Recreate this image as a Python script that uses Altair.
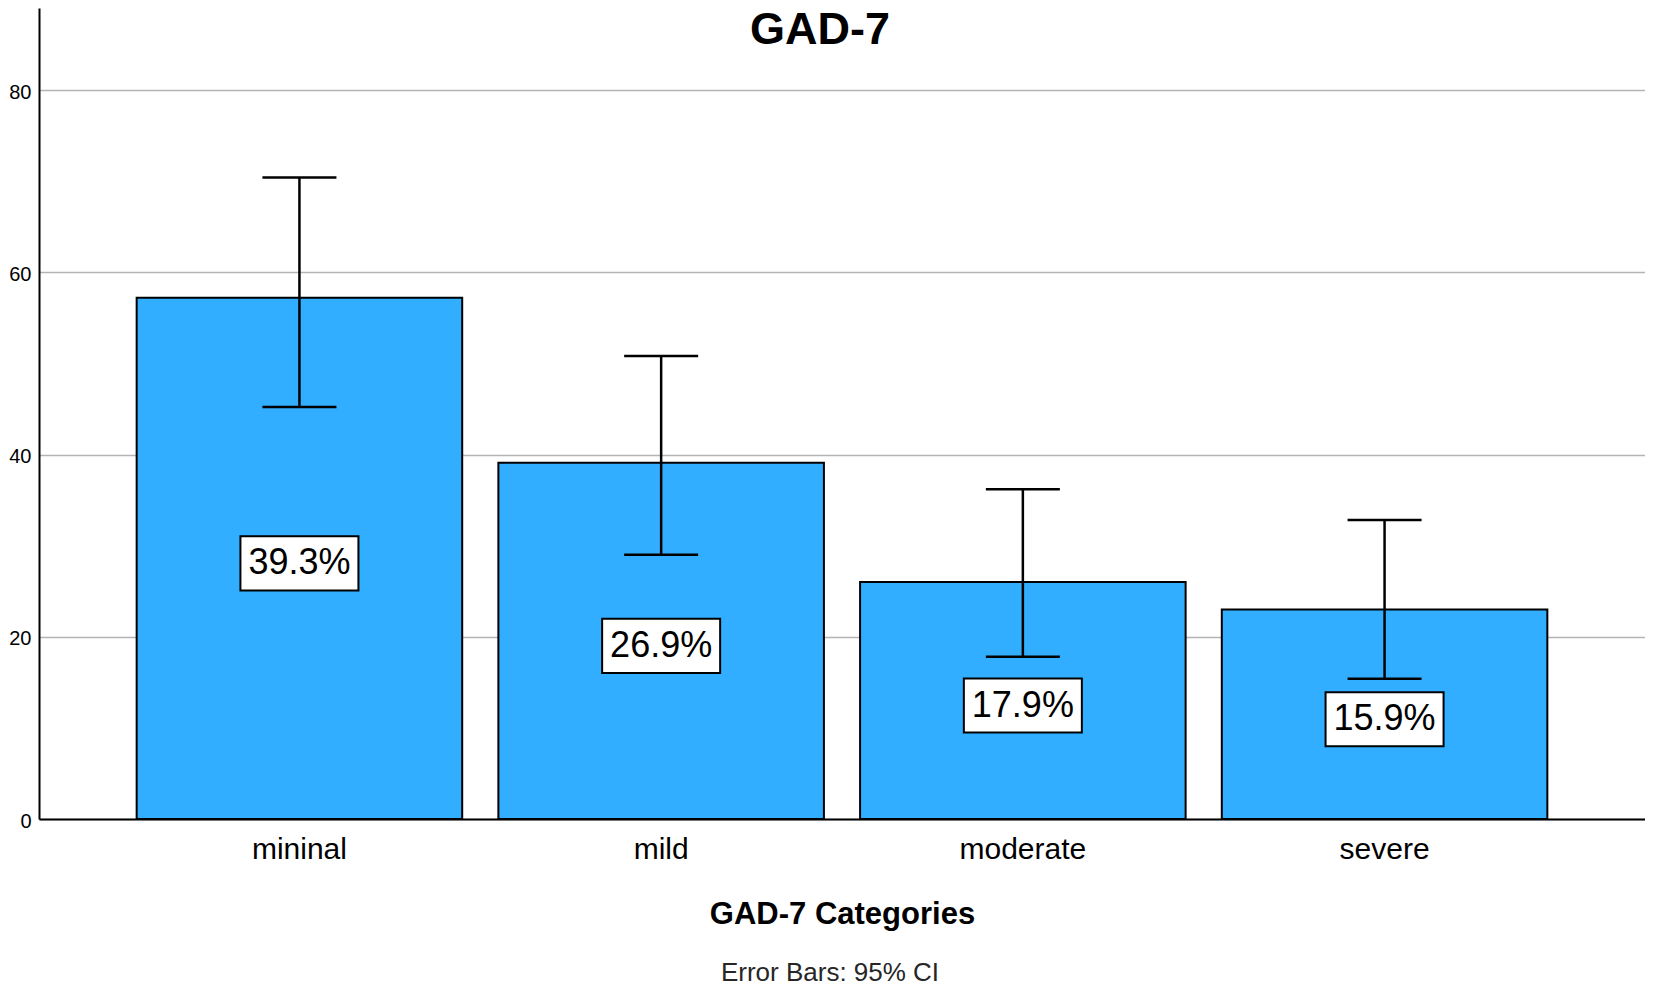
import altair as alt
import pandas as pd

categories = ["mininal", "mild", "moderate", "severe"]
means = [57.2, 39.1, 26.0, 23.0]
ci_low = [45.2, 29.0, 17.8, 15.4]
ci_high = [70.4, 50.8, 36.2, 32.8]
pct_labels = ["39.3%", "26.9%", "17.9%", "15.9%"]
y_ticks = [0, 20, 40, 60, 80]
title_text = ["GAD-7"]
x_title = "GAD-7 Categories"
footnote = ["Error Bars: 95% CI"]

df = pd.DataFrame({"cat": categories, "mean": means, "lo": ci_low,
                   "hi": ci_high, "label": pct_labels})

W = 1606
H = 811
FONT = "Liberation Sans"
BAR_COLOR = "#31AEFF"

x_enc = alt.X(
    "cat:N", sort=categories,
    scale=alt.Scale(paddingInner=0.1, paddingOuter=0.27),
    axis=alt.Axis(
        title=x_title, labelAngle=0, labelFont=FONT, labelFontSize=30,
        labelColor="black", labelPadding=15, ticks=False, tickSize=0,
        domainColor="black", domainWidth=2, grid=False,
        titleFont=FONT, titleFontSize=31, titleFontWeight="bold",
        titleColor="black", titleBaseline="alphabetic", titleY=104,
    ),
)
y_scale = alt.Scale(domain=[0, 89], nice=False)
y_enc = alt.Y(
    "mean:Q", scale=y_scale,
    axis=alt.Axis(
        title=None, values=y_ticks, labelFont=FONT, labelFontSize=20,
        labelColor="black", labelPadding=8, labelOffset=2, ticks=False,
        domainColor="black", domainWidth=2, gridColor="#b4b4b4",
        gridWidth=1.5, minExtent=31, maxExtent=31,
    ),
)

xc = alt.X("cat:N", sort=categories)

base = alt.Chart(df)

bars = base.mark_bar(color=BAR_COLOR, stroke="black", strokeWidth=2).encode(
    x=x_enc, y=y_enc
)

rule = base.mark_rule(color="black", strokeWidth=2.5).encode(
    x=xc,
    y=alt.Y("lo:Q", scale=y_scale),
    y2="hi:Q",
)
cap_hi = base.mark_tick(color="black", thickness=2.5, size=74, opacity=1).encode(
    x=xc, y=alt.Y("hi:Q", scale=y_scale)
)
cap_lo = base.mark_tick(color="black", thickness=2.5, size=74, opacity=1).encode(
    x=xc, y=alt.Y("lo:Q", scale=y_scale)
)

box_shape = "M-1,-0.458L1,-0.458L1,0.458L-1,0.458Z"
boxes = base.transform_calculate(mid="datum.mean / 2").mark_point(
    shape=box_shape, size=118 * 118, filled=True, fill="white",
    stroke="black", strokeWidth=2, opacity=1, fillOpacity=1, yOffset=5,
).encode(
    x=xc, y=alt.Y("mid:Q", scale=y_scale)
)
labels = base.transform_calculate(mid="datum.mean / 2").mark_text(
    font=FONT, fontSize=36, color="black", baseline="middle",
    align="center", yOffset=5,
).encode(
    x=xc, y=alt.Y("mid:Q", scale=y_scale),
    text="label:N",
)

title_mark = alt.Chart(pd.DataFrame({"t": title_text})).mark_text(
    font=FONT, fontSize=45, fontWeight="bold", color="black",
    baseline="alphabetic", align="center",
).encode(text="t:N", x=alt.value(781), y=alt.value(36))

foot = alt.Chart(pd.DataFrame({"t": footnote})).mark_text(
    font=FONT, fontSize=26, color="#262626", baseline="alphabetic",
    align="center",
).encode(text="t:N", x=alt.value(791), y=alt.value(973))

chart = alt.layer(bars, rule, cap_hi, cap_lo, boxes, labels, title_mark, foot).properties(
    width=W, height=H,
    padding={"left": 0, "top": 0, "right": 0, "bottom": 0},
    background="white",
).configure_view(strokeWidth=0, stroke="transparent")

chart.save("out.html", embed_options={"renderer": "svg", "actions": False})
